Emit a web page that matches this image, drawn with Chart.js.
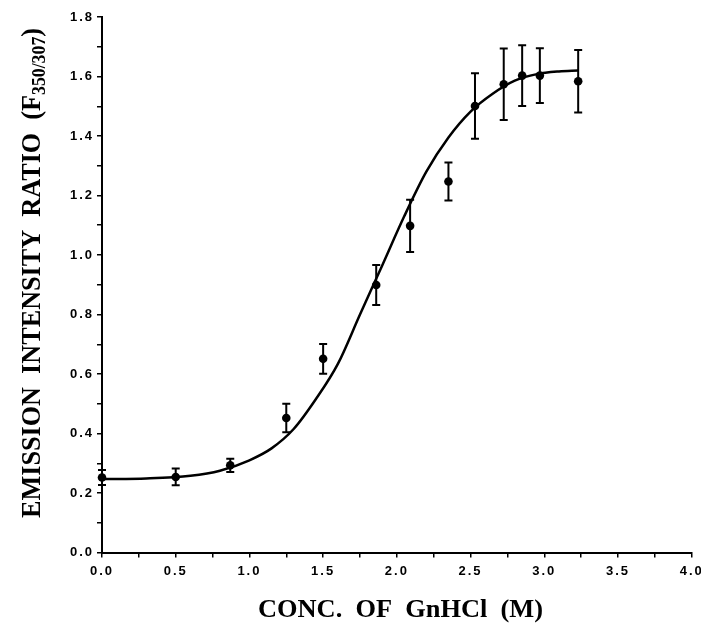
<!DOCTYPE html>
<html>
<head>
<meta charset="utf-8">
<script src="https://cdn.jsdelivr.net/npm/chart.js@4"></script>
<style>
  html, body { margin: 0; padding: 0; background: #fff; }
  canvas { display: block; }
</style>
</head>
<body>
<canvas id="grafico" width="701" height="627"></canvas>
<script>
// pontos medidos (GnHCl em M) e razao F350/307
const concentracoes = [0.0, 0.5, 0.87, 1.25, 1.5, 1.86, 2.09, 2.35, 2.53, 2.725, 2.85, 2.97, 3.23];
const razoes = [0.252, 0.254, 0.293, 0.452, 0.651, 0.899, 1.098, 1.247, 1.501, 1.574, 1.603, 1.603, 1.584];
const erros = [0.025, 0.028, 0.022, 0.048, 0.050, 0.067, 0.088, 0.064, 0.110, 0.120, 0.102, 0.092, 0.105];

// curva ajustada
const curvaX = [0, 0.3, 0.6, 0.8, 1.0, 1.15, 1.3, 1.45, 1.6, 1.75, 1.9, 2.05, 2.2, 2.35, 2.5, 2.65, 2.8, 2.95, 3.1, 3.23];
const curvaY = [0.247, 0.249, 0.258, 0.275, 0.310, 0.350, 0.415, 0.515, 0.634, 0.800, 0.964, 1.130, 1.280, 1.395, 1.482, 1.542, 1.586, 1.608, 1.617, 1.620];

const tituloX = "CONC.  OF  GnHCl  (M)";
const tituloYTexto = "EMISSION  INTENSITY  RATIO  (F";
const tituloYSub = "350/307";
const tituloYFim = ")";

const preto = "#000";

const pluginEspacamento = {
  id: "espacamento",
  beforeDraw(chart) {
    chart.ctx.letterSpacing = "2px";
  }
};

const pluginBarrasErro = {
  id: "barrasErro",
  afterDatasetsDraw(chart) {
    const ctx = chart.ctx;
    const sx = chart.scales.x, sy = chart.scales.y;
    ctx.save();
    ctx.strokeStyle = preto;
    ctx.lineWidth = 2;
    concentracoes.forEach((c, i) => {
      const px = sx.getPixelForValue(c);
      const topo = sy.getPixelForValue(razoes[i] + erros[i]);
      const base = sy.getPixelForValue(razoes[i] - erros[i]);
      ctx.beginPath();
      ctx.moveTo(px, topo); ctx.lineTo(px, base);
      ctx.moveTo(px - 4, topo); ctx.lineTo(px + 4, topo);
      ctx.moveTo(px - 4, base); ctx.lineTo(px + 4, base);
      ctx.stroke();
    });
    ctx.restore();
  }
};

const pluginTitulos = {
  id: "titulos",
  afterDraw(chart) {
    const ctx = chart.ctx;
    ctx.save();
    ctx.letterSpacing = "0px";
    ctx.fillStyle = preto;
    ctx.textBaseline = "alphabetic";

    // titulo do eixo x
    ctx.font = 'bold 26px "Liberation Serif"';
    const wx = ctx.measureText(tituloX).width;
    ctx.save();
    ctx.translate(400.5, 617);
    ctx.scale(285 / wx, 1);
    ctx.textAlign = "center";
    ctx.fillText(tituloX, 0, 0);
    ctx.restore();

    // titulo do eixo y com subscrito
    const fonteG = 'bold 28px "Liberation Serif"';
    const fonteP = 'bold 19px "Liberation Serif"';
    ctx.font = fonteG;
    const w1 = ctx.measureText(tituloYTexto).width;
    const w3 = ctx.measureText(tituloYFim).width;
    ctx.font = fonteP;
    const w2 = ctx.measureText(tituloYSub).width;
    const total = w1 + w2 + w3;
    ctx.translate(40, 273);
    ctx.rotate(-Math.PI / 2);
    ctx.scale(490 / total, 1);
    ctx.textAlign = "left";
    let u = -total / 2;
    ctx.font = fonteG;
    ctx.fillText(tituloYTexto, u, 0);
    u += w1;
    ctx.font = fonteP;
    ctx.fillText(tituloYSub, u, 5);
    u += w2;
    ctx.font = fonteG;
    ctx.fillText(tituloYFim, u, 0);
    ctx.restore();
  }
};

const fonteTicks = { family: '"Liberation Sans", Arial, sans-serif', size: 13, weight: "bold" };

new Chart(document.getElementById("grafico"), {
  type: "scatter",
  data: {
    datasets: [
      {
        type: "line",
        data: curvaX.map((x, i) => ({ x, y: curvaY[i] })),
        borderColor: preto,
        borderWidth: 2.5,
        pointRadius: 0,
        cubicInterpolationMode: "monotone",
        fill: false
      },
      {
        data: concentracoes.map((x, i) => ({ x, y: razoes[i] })),
        backgroundColor: preto,
        borderColor: preto,
        pointRadius: 4.3,
        borderWidth: 0,
        clip: false
      }
    ]
  },
  options: {
    responsive: false,
    animation: false,
    events: [],
    layout: { padding: { top: 17, right: 9.3, bottom: 0, left: 0 } },
    plugins: { legend: { display: false }, tooltip: { enabled: false } },
    scales: {
      x: {
        type: "linear",
        min: 0,
        max: 4,
        border: { color: preto, width: 2 },
        grid: { drawOnChartArea: false, color: preto, lineWidth: 1.5, tickLength: 5 },
        ticks: {
          stepSize: 0.25,
          autoSkip: false,
          maxRotation: 0,
          padding: 6,
          color: preto,
          font: fonteTicks,
          callback: v => (Math.round(v * 4) % 2 === 0 ? v.toFixed(1) : "")
        },
        afterFit(scale) {
          scale.height = 74.5;
          scale.paddingLeft = 0;
          scale.paddingRight = 0;
        }
      },
      y: {
        type: "linear",
        min: 0,
        max: 1.8,
        border: { color: preto, width: 2 },
        grid: { drawOnChartArea: false, color: preto, lineWidth: 1.5, tickLength: 5 },
        ticks: {
          stepSize: 0.1,
          autoSkip: false,
          padding: 3,
          color: preto,
          font: fonteTicks,
          callback: v => (Math.round(v * 10) % 2 === 0 ? v.toFixed(1) : "")
        },
        afterFit(scale) {
          scale.width = 102;
          scale.paddingTop = 0;
          scale.paddingBottom = 0;
        }
      }
    }
  },
  plugins: [pluginEspacamento, pluginBarrasErro, pluginTitulos]
});
</script>
</body>
</html>
